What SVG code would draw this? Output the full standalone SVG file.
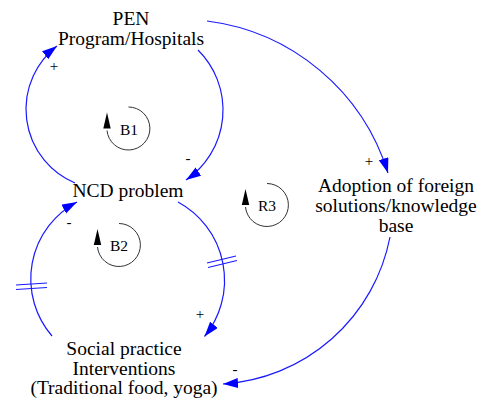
<svg xmlns="http://www.w3.org/2000/svg" width="484" height="408" viewBox="0 0 484 408">
<style>
text{font-family:"Liberation Serif","Times New Roman",serif;fill:#000;text-anchor:middle}
.lbl{font-size:19.5px}
.pol{font-size:15px}
.loop{font-size:15.5px}
.link{fill:none;stroke:#1a1aff;stroke-width:1.2;marker-end:url(#ah)}
.delay{stroke:#1a1aff;stroke-width:1.2}
.licon{fill:none;stroke:#333;stroke-width:1}
</style>
<defs>
<marker id="ah" markerUnits="userSpaceOnUse" markerWidth="16" markerHeight="12" refX="15" refY="5" orient="auto" viewBox="0 0 16 12">
<path d="M0,0 L15,5 L0,10 Z" fill="#0000ff"/>
</marker>
<g id="loopicon">
<path class="licon" d="M0,-21.5 A21.5,21.5 0 1 1 -21.5,2"/>
<path d="M-21.5,-16 L-17.8,0 L-25.2,0 Z" fill="#000"/>
</g>
</defs>

<g id="connectors">
<path id="pen-ncd" class="link" d="M198,50 A84.6,84.6 0 0 1 186,180"/>
<path id="ncd-pen" class="link" d="M75,183 A80,80 0 0 1 57,46"/>
<path id="ncd-social" class="link" d="M178,202 A89,89 0 0 1 204.5,336.5"/>
<path id="social-ncd" class="link" d="M52,336 A87.2,87.2 0 0 1 77,202"/>
<path id="pen-adoption" class="link" d="M207,21 A218,218 0 0 1 388,173"/>
<path id="adoption-social" class="link" d="M390,237 A182,182 0 0 1 223,384"/>
<line class="delay" x1="207" y1="263" x2="236" y2="256"/>
<line class="delay" x1="208" y1="267.5" x2="237" y2="260.5"/>
<line class="delay" x1="16" y1="285" x2="47" y2="283"/>
<line class="delay" x1="16" y1="289.5" x2="47" y2="287.5"/>
<text class="pol" x="188" y="163">-</text>
<text class="pol" x="54" y="71">+</text>
<text class="pol" x="200" y="319">+</text>
<text class="pol" x="69" y="227">-</text>
<text class="pol" x="369" y="166">+</text>
<text class="pol" x="235" y="374">-</text>
</g>

<g id="loop-B1">
<use href="#loopicon" transform="translate(128.5,128.5)"/>
<text class="loop" x="129" y="135">B1</text>
</g>
<g id="loop-B2">
<use href="#loopicon" transform="translate(119,245)"/>
<text class="loop" x="119" y="251">B2</text>
</g>
<g id="loop-R3">
<use href="#loopicon" transform="translate(267,205)"/>
<text class="loop" x="267" y="211">R3</text>
</g>

<g id="node-pen">
<text class="lbl" x="131" y="25">PEN</text>
<text class="lbl" x="131" y="45">Program/Hospitals</text>
</g>
<g id="node-ncd">
<text class="lbl" x="128" y="197">NCD problem</text>
</g>
<g id="node-adoption">
<text class="lbl" x="396" y="192">Adoption of foreign</text>
<text class="lbl" x="396" y="212">solutions/knowledge</text>
<text class="lbl" x="396" y="232">base</text>
</g>
<g id="node-social">
<text class="lbl" x="124" y="355">Social practice</text>
<text class="lbl" x="124" y="374.5">Interventions</text>
<text class="lbl" x="124" y="394">(Traditional food, yoga)</text>
</g>
</svg>
